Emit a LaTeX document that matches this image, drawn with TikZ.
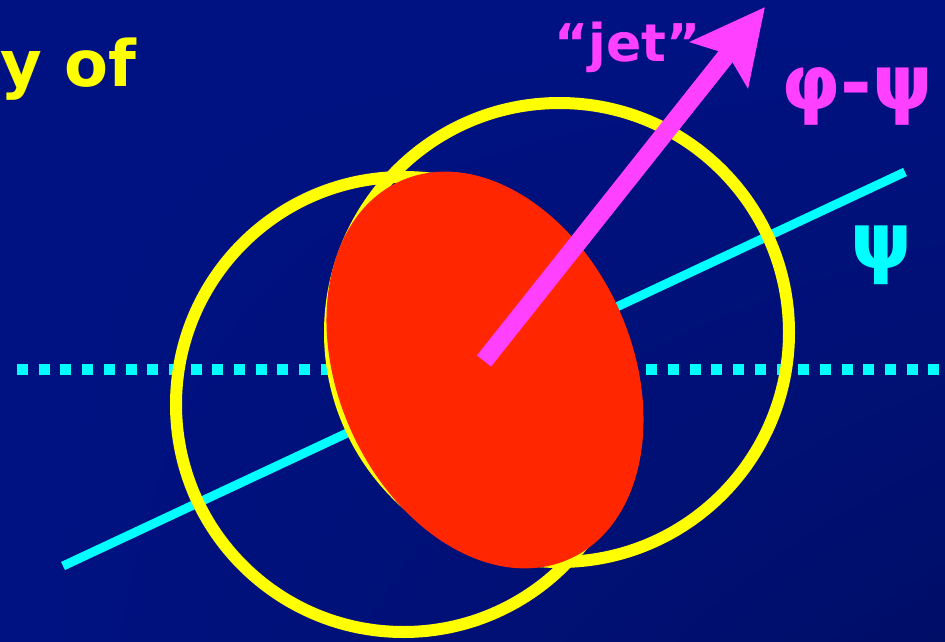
\documentclass[tikz,border=0pt]{standalone}
\usepackage{fontspec}
\setmainfont{DejaVu Sans}
\usetikzlibrary{arrows.meta,shadings}
\definecolor{bgA}{RGB}{0,18,130}
\definecolor{bgB}{RGB}{0,14,104}
\definecolor{ringyellow}{RGB}{255,255,0}
\definecolor{blobred}{RGB}{255,38,0}
\definecolor{jetmagenta}{RGB}{255,64,255}
\definecolor{axiscyan}{RGB}{0,255,255}
\tikzset{
  ring/.style={draw=ringyellow, line width=12pt},
  blob/.style={fill=blobred},
  axisline/.style={draw=axiscyan, line width=9pt},
  dotline/.style={draw=axiscyan, line width=11pt, dash pattern=on 11pt off 10.7pt},
  jetarrow/.style={draw=jetmagenta, line width=18pt, -{Stealth[length=73pt,width=72pt,inset=13pt]}},
  lbl/.style={inner sep=0pt, font=\bfseries}
}
\begin{document}
\begin{tikzpicture}[x=1pt,y=-1pt]
\useasboundingbox (0,0) rectangle (945,642);
\shade[upper left=bgA, upper right=bgA, lower left=bgA, lower right=bgB] (0,0) rectangle (945,642);
% reaction plane (dotted) and event plane psi
\coordinate (dotL) at (17,369.5);
\coordinate (dotR) at (950,369.5);
\draw[dotline] (dotL) -- (dotR);
\coordinate (psiL) at (63,566);
\coordinate (psiR) at (905,172);
\draw[axisline] (psiL) -- (psiR);
% nuclei
\coordinate (nucA) at (403.5,404.5);
\coordinate (nucB) at (559.5,332.5);
\draw[ring] (nucA) circle[radius=227.5pt];
\draw[ring] (nucB) circle[radius=229.5pt];
% overlap region
\coordinate (blobC) at (485,370);
\fill[blob, shift={(blobC)}, rotate=-66] (0,0) ellipse[x radius=207pt, y radius=147pt];
% jet
\coordinate (jetTail) at (484,361);
\coordinate (jetTip) at (765,7);
\draw[jetarrow] (jetTail) -- (jetTip);
% labels
\node[lbl, text=ringyellow, anchor=base west, font=\bfseries\fontsize{64}{76}\selectfont] (title) at (0,86) {y of};
\node[lbl, text=jetmagenta, anchor=base west, font=\bfseries\fontsize{52}{60}\selectfont] (jetlabel) at (554,62) {“jet”};
\node[lbl, text=jetmagenta, anchor=base west, font=\bfseries\fontsize{76}{86}\selectfont] (phipsi) at (781,110) {φ-ψ};
\node[lbl, text=axiscyan, anchor=base west, font=\bfseries\fontsize{78}{88}\selectfont] (psilabel) at (850,268) {ψ};
\end{tikzpicture}
\end{document}
